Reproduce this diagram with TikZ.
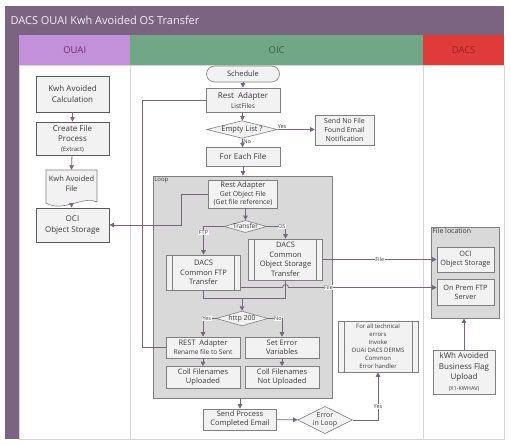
\documentclass[tikz,border=0pt]{standalone}
\usepackage{fontspec}
\setmainfont{Open Sans}
\usetikzlibrary{shapes.geometric,arrows.meta}

\definecolor{titlebar}{HTML}{7B6482}
\definecolor{ouaihead}{HTML}{C291DA}
\definecolor{ouaitext}{HTML}{7A2E6E}
\definecolor{oichead}{HTML}{71A686}
\definecolor{oictext}{HTML}{3E5F4B}
\definecolor{dacshead}{HTML}{E03B3B}
\definecolor{dacstext}{HTML}{9E2424}
\definecolor{lanegrey}{HTML}{D4D4D4}
\definecolor{boxline}{HTML}{7F7F7F}
\definecolor{boxfill}{HTML}{F2F2F2}
\definecolor{groupfill}{HTML}{D9D9D9}
\definecolor{flowline}{HTML}{7B6482}
\definecolor{boxtext}{HTML}{3A3A3A}

\begin{document}
\begin{tikzpicture} [x=1pt, y=-1pt,
	lane/.style = {draw=lanegrey, fill=white, line width=0.5pt},
	head/.style = {anchor=north west, minimum height=30, inner sep=0pt,
		font=\fontsize{9.5}{11}\selectfont},
	box/.style = {draw=boxline, fill=boxfill, text=boxtext, line width=0.6pt,
		align=center, inner sep=1pt, font=\fontsize{8}{11}\selectfont},
	darkbox/.style = {box, draw=black!65, line width=0.9pt},
	subproc/.style = {box, path picture={
		\draw[boxline, line width=0.6pt]
			([xshift=6pt]path picture bounding box.north west) -- ([xshift=6pt]path picture bounding box.south west)
			([xshift=-6pt]path picture bounding box.north east) -- ([xshift=-6pt]path picture bounding box.south east);}},
	decision/.style = {box, diamond, aspect=3.5, inner sep=0pt},
	group/.style = {draw=boxline, fill=groupfill, line width=0.7pt},
	flow/.style = {draw=flowline, line width=0.8pt, -{Triangle[width=4.5pt,length=4.5pt]}},
	link/.style = {draw=flowline, line width=0.8pt},
	lbl/.style = {font=\fontsize{5.5}{6}\selectfont, text=boxtext, fill=white, inner sep=0.6pt}]

	\useasboundingbox (0,0) rectangle (511,446);

	% swimlanes
	\fill[titlebar] (5,6) rectangle (504,35);
	\node (title) [anchor=west, text=white!94!black, font=\fontsize{11}{13}\selectfont] at (7,20.5) {DACS OUAI Kwh Avoided OS Transfer};
	\fill[titlebar] (5,35) rectangle (19,439);
	\draw[lane] (19,65) rectangle (130,439);
	\draw[lane] (130,65) rectangle (423,439);
	\draw[lane] (423,65) rectangle (504,439);
	\node (ouai) [head, fill=ouaihead, text=ouaitext, minimum width=111] at (19,35) {OUAI};
	\node (oic) [head, fill=oichead, text=oictext, minimum width=293] at (130,35) {OIC};
	\node (dacs) [head, fill=dacshead, text=dacstext, minimum width=81] at (423,35) {DACS};

	% OUAI
	\node (calc) [darkbox, minimum width=73, minimum height=36] at (72.5,94) {Kwh Avoided\\Calculation};
	\node (create) [darkbox, minimum width=73, minimum height=33, font=\fontsize{8}{10}\selectfont] at (72.5,138.5) {Create File\\Process\\{\fontsize{6}{8}\selectfont(Extract)}};
	\draw[boxline, fill=boxfill, line width=0.6pt] (46,170) -- (97,170) -- (97,202) .. controls (84,195) and (63,213) .. (46,203) -- cycle;
	\node (kfile) [text=boxtext, align=center, font=\fontsize{7.5}{10}\selectfont, minimum width=51, minimum height=28, inner sep=0pt] at (71.5,184) {Kwh Avoided\\File};
	\coordinate (kfilebot) at (71.5,204);
	\node (ocistore) [darkbox, minimum width=73, minimum height=34] at (72.5,225) {OCI\\Object Storage};

	% OIC
	\node (sched) [box, rounded corners=8pt, minimum width=73, minimum height=16, font=\fontsize{7.5}{9}\selectfont] at (243,74) {Schedule};
	\node (listfiles) [box, minimum width=74, minimum height=24, font=\fontsize{8}{10}\selectfont] at (243,100) {Rest~~Adapter\\{\fontsize{6.5}{8}\selectfont ListFiles}};
	\node (empty) [decision, aspect=4, font=\fontsize{7.5}{9}\selectfont] at (242,129.5) {Empty List ?};
	\node (nofile) [box, minimum width=59, minimum height=30, font=\fontsize{7}{9}\selectfont] at (344.5,130) {Send No File\\Found Email\\Notification};
	\node (foreach) [box, minimum width=74, minimum height=19] at (243,157) {For Each File};

	\node (loop) [group, minimum width=179, minimum height=222,
		label={[anchor=north west, inner sep=1.5pt, font=\fontsize{6}{7}\selectfont, text=boxtext]north west:Loop}] at (242.5,287) {};
	\node (getobj) [box, minimum width=69, minimum height=28, font=\fontsize{6.8}{8.6}\selectfont] at (243,194) {{\fontsize{7.5}{8.6}\selectfont Rest Adapter}\\Get Object File\\(Get file reference)};
	\node (transfer) [decision, font=\fontsize{6.5}{8}\selectfont] at (245.5,226.5) {Transfer};
	\node (ftp) [subproc, minimum width=74, minimum height=35, font=\fontsize{7.5}{9.5}\selectfont] at (203.5,272.5) {DACS\\Common FTP\\Transfer};
	\node (ostr) [subproc, minimum width=74, minimum height=41, font=\fontsize{7.5}{9.5}\selectfont] at (285.5,259.5) {DACS\\Common\\Object Storage\\Transfer};
	\node (http) [decision, font=\fontsize{7}{8}\selectfont] at (242,318.5) {http 200};
	\node (rename) [box, minimum width=74, minimum height=21, font=\fontsize{7.5}{9}\selectfont] at (203,347.5) {REST~~Adapter\\{\fontsize{6.5}{8}\selectfont Rename file to Sent}};
	\node (seterr) [box, minimum width=74, minimum height=21, font=\fontsize{7.5}{9}\selectfont] at (282,347.5) {Set Error\\Variables};
	\node (collup) [box, minimum width=74, minimum height=22, font=\fontsize{7.5}{9}\selectfont] at (203,377.5) {Coll Filenames\\Uploaded};
	\node (collnot) [box, minimum width=74, minimum height=22, font=\fontsize{7.5}{9}\selectfont] at (282,377.5) {Coll Filenames\\Not Uploaded};
	\node (sendmail) [box, minimum width=73, minimum height=21, font=\fontsize{7.5}{9}\selectfont] at (240,419.5) {Send Process\\Completed Email};
	\node (errloop) [decision, aspect=2, font=\fontsize{7}{8.5}\selectfont] at (325,420) {Error\\in Loop};
	\node (errhand) [subproc, minimum width=80, minimum height=51, font=\fontsize{6}{8}\selectfont] at (378,346.5) {For all technical\\errors\\Invoke\\OUAI DACS DERMS\\Common\\Error handler};

	% DACS
	\node (fileloc) [group, minimum width=68, minimum height=91,
		label={[anchor=north west, inner sep=1.5pt, font=\fontsize{7}{8}\selectfont, text=boxtext]north west:File location}] at (465,272.5) {};
	\node (ocidacs) [box, minimum width=57, minimum height=25, font=\fontsize{7.3}{9}\selectfont] at (465.5,259.5) {OCI\\Object Storage};
	\node (onprem) [box, minimum width=57, minimum height=26, font=\fontsize{7.3}{9}\selectfont] at (465.5,292) {On Prem FTP\\Server};
	\node (flag) [box, minimum width=62, minimum height=44, font=\fontsize{8}{10.5}\selectfont] at (464,372) {kWh Avoided\\Business Flag\\Upload\\{\fontsize{5.5}{7}\selectfont (X1-KWHAV)}};

	% connectors
	\draw[flow] (calc) -- (create);
	\draw[flow] (create) -- (kfile.north);
	\draw[flow] (kfilebot) -- (ocistore);

	\draw[flow] (sched) -- (listfiles);
	\draw[flow] (listfiles) -- (empty);
	\draw[flow] (empty.east) -- node[lbl, fill=none, pos=0.12, above] {Yes} (nofile.west |- empty.east);
	\draw[flow] (empty) -- node[lbl, fill=none, pos=0.3, right] {No} (foreach);
	\draw[flow] (foreach) -- (foreach.south |- loop.north);
	\draw[link] (listfiles.west) -- ++(-63,0) |- (rename.west);
	\draw[flow] (getobj.west) -- ++(-27,0) |- (ocistore.east);
	\draw[flow] (getobj.south -| transfer.north) -- (transfer.north);
	\draw[flow] (transfer.west) -| node[lbl, pos=0.6] {FTP} (ftp.north);
	\draw[flow] (transfer.east) -| node[lbl, pos=0.4] {OS} (ostr.north);
	\coordinate (merge) at (242,298);
	\draw[link] (ftp.south) |- (merge);
	\draw[link] (ostr.south) |- (merge);
	\draw[flow] (merge) -- (http.north);
	\draw[flow] (ostr.east) -- node[lbl] {File} (ocidacs.west);
	\coordinate (fileftp) at ([yshift=-15pt]ftp.east);
	\draw[flow] (fileftp) -- (282.5,287.5) .. controls (282.5,283.5) and (288.5,283.5) .. (288.5,287.5)
		-- node[lbl, pos=0.27] {File} (onprem.west |- fileftp);
	\draw[flow] (http.west) -| node[lbl, pos=0.35] {Yes} (rename.north);
	\draw[flow] (http.east) -| node[lbl, pos=0.35] {No} (seterr.north);
	\draw[flow] (rename) -- (collup);
	\draw[flow] (seterr) -- (collnot);
	\draw[flow] (loop.south -| sendmail.north) -- (sendmail.north);
	\draw[flow] (sendmail) -- (errloop);
	\draw[flow] (errloop.east) -| node[lbl, pos=0.64] {Yes} (errhand.south);
	\draw[flow] (flag.north) -- (flag.north |- fileloc.south);

\end{tikzpicture}
\end{document}
